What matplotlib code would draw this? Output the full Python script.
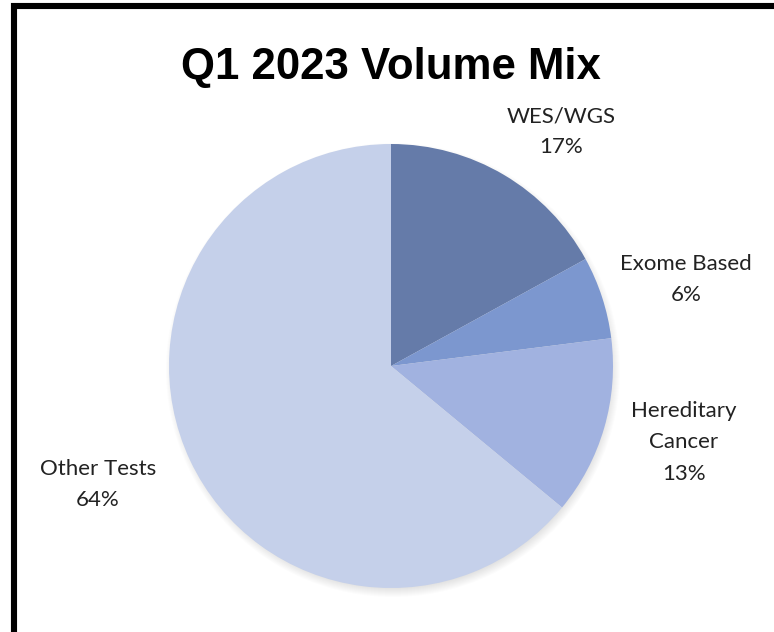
import matplotlib.pyplot as plt
from matplotlib.patches import Circle, Rectangle

# --- data ---
categories = ["WES/WGS", "Exome Based", "Hereditary\nCancer", "Other Tests"]
shares = [17, 6, 13, 64]
colors = ["#657BA9", "#7C97CF", "#A1B2E0", "#C5D0EA"]
title = "Q1 2023 Volume Mix"

W, H = 774, 632
fig = plt.figure(figsize=(W / 100, H / 100), dpi=100)
ax = fig.add_axes([0, 0, 1, 1])
ax.set_xlim(0, W)
ax.set_ylim(0, H)
ax.set_aspect("equal")
ax.axis("off")

cx, cy, r = 391, H - 366, 222

# soft shadow behind the pie
for k in range(10):
    ax.add_patch(Circle((cx + 2, cy - 4), r + 5 - k, color="black",
                        alpha=0.012, lw=0, zorder=0))

labels = [f"{c}\n{v}%" for c, v in zip(categories, shares)]
wedges, texts = ax.pie(shares, labels=labels, colors=colors, startangle=90,
                       counterclock=False, center=(cx, cy), radius=r,
                       labeldistance=1.33, frame=True,
                       wedgeprops=dict(linewidth=0),
                       textprops=dict(fontsize=16, family="Lato",
                                      color="#222222", linespacing=1.7))
for t in texts:
    t.set_ha("center")
    t.set_va("center")
ax.set_xlim(0, W)
ax.set_ylim(0, H)
ax.axis("off")

# small nudges to match placement
offsets = [(20, -20), (14, -5), (9, 6), (-26, 7)]
for t, (dx, dy) in zip(texts, offsets):
    x, y = t.get_position()
    t.set_position((x + dx, y + dy))

ax.text(391, H - 67, title, ha="center", va="center", fontsize=31.5,
        fontweight="bold", family="Liberation Sans")

# frame (only top and left edges visible)
ax.add_patch(Rectangle((14, -20), 800, H - 6 + 20, fill=False,
                       edgecolor="black", lw=4.4, clip_on=False))

fig.savefig("out.png", dpi=100)
